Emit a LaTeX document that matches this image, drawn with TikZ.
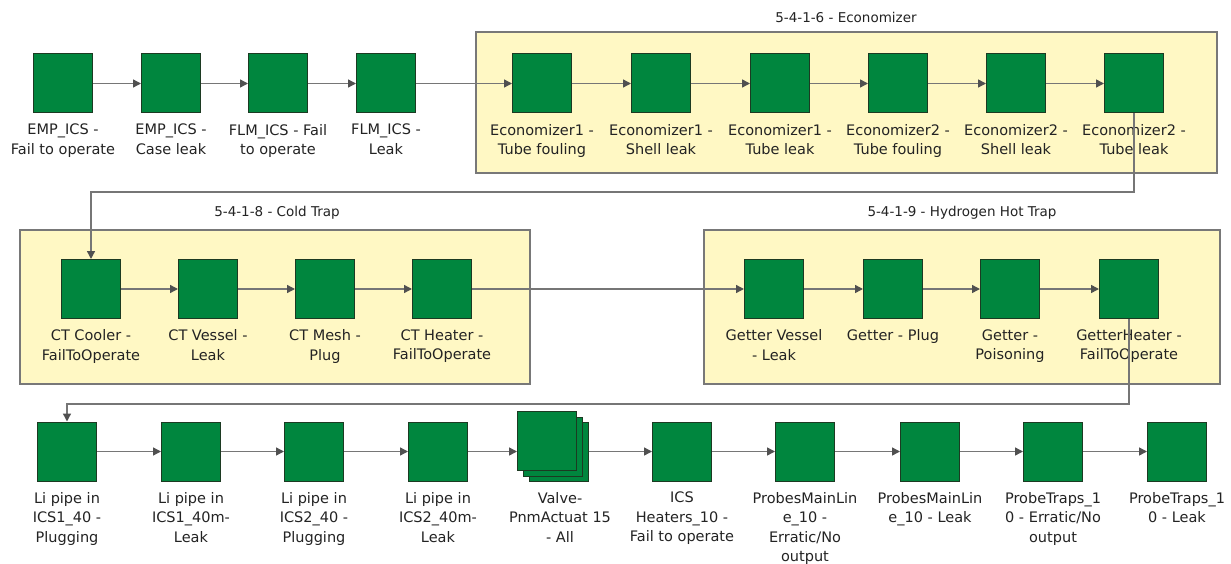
\documentclass[tikz,border=0pt]{standalone}
\usepackage{fontspec}
\setmainfont{DejaVu Sans}
\usetikzlibrary{arrows.meta,calc}
\definecolor{boxgreen}{RGB}{0,134,62}
\definecolor{boxedge}{RGB}{28,58,34}
\definecolor{grpfill}{RGB}{255,248,196}
\definecolor{grpedge}{RGB}{120,120,120}
\definecolor{linkgray}{RGB}{118,118,118}
\definecolor{tipgray}{RGB}{80,80,80}
\definecolor{txt}{RGB}{35,35,35}
\begin{document}
\begin{tikzpicture}[x=1pt,y=-1pt,
  fm/.style={draw=boxedge, fill=boxgreen, minimum size=59pt, inner sep=0pt, line width=1pt},
  lbl/.style={anchor=north, align=center, inner sep=0pt, text=txt,
              font=\fontsize{14.5}{19.5}\selectfont},
  grp/.style={draw=grpedge, fill=grpfill, line width=1.2pt, inner sep=0pt},
  ttl/.style={text=txt, inner sep=0pt, font=\fontsize{13.5}{16}\selectfont},
  link/.style={draw=linkgray, line width=1.4pt,
               -{Triangle[length=8pt,width=8pt,color=tipgray]}},
]
\useasboundingbox[fill=white] (0,0) rectangle (1231,564);

% group frames and their titles
\node[grp, minimum width=741pt, minimum height=141pt] (econ) at (846.5,102.5) {};
\node[grp, minimum width=510pt, minimum height=154pt] (cold) at (275,307) {};
\node[grp, minimum width=516pt, minimum height=154pt] (hot)  at (962,307) {};
\node[ttl] (econT) at (846,17)  {5-4-1-6 - Economizer};
\node[ttl] (coldT) at (277,213) {5-4-1-8 - Cold Trap};
\node[ttl] (hotT)  at (962,213) {5-4-1-9 - Hydrogen Hot Trap};

% row 1
\foreach \n/\x/\t in {
  a1/63/{EMP\_ICS -\\Fail to operate},
  a2/171/{EMP\_ICS -\\Case leak},
  a3/278/{FLM\_ICS - Fail\\to operate},
  a4/386/{FLM\_ICS -\\Leak},
  e1/542/{Economizer1 -\\Tube fouling},
  e2/661/{Economizer1 -\\Shell leak},
  e3/780/{Economizer1 -\\Tube leak},
  e4/898/{Economizer2 -\\Tube fouling},
  e5/1016/{Economizer2 -\\Shell leak},
  e6/1134/{Economizer2 -\\Tube leak}}{
  \node[fm] (\n) at (\x,83.5) {};
  \node[lbl] (\n t) at ([yshift=-10.5pt]\n.south) {\t};
}

% row 2
\foreach \n/\x/\t in {
  c1/91/{CT Cooler -\\FailToOperate},
  c2/208/{CT Vessel -\\Leak},
  c3/325/{CT Mesh -\\Plug},
  c4/442/{CT Heater -\\FailToOperate},
  g1/774/{Getter Vessel\\- Leak},
  g2/893/{Getter - Plug},
  g3/1010/{Getter -\\Poisoning},
  g4/1129/{GetterHeater -\\FailToOperate}}{
  \node[fm] (\n) at (\x,289) {};
  \node[lbl] (\n t) at ([yshift=-10.5pt]\n.south) {\t};
}

% row 3
\foreach \n/\x/\t in {
  l1/67/{Li pipe in\\ICS1\_40 -\\Plugging},
  l2/191/{Li pipe in\\ICS1\_40m-\\Leak},
  l3/314/{Li pipe in\\ICS2\_40 -\\Plugging},
  l4/438/{Li pipe in\\ICS2\_40m-\\Leak},
  h/682/{ICS\\Heaters\_10 -\\Fail to operate},
  p1/805/{ProbesMainLin\\e\_10 -\\Erratic/No\\output},
  p2/930/{ProbesMainLin\\e\_10 - Leak},
  p3/1053/{ProbeTraps\_1\\0 - Erratic/No\\output},
  p4/1177/{ProbeTraps\_1\\0 - Leak}}{
  \node[fm] (\n) at (\x,451.5) {};
  \node[lbl] (\n t) at ([yshift=-10.5pt]\n.south) {\t};
}

% the valve group: a stack of three squares, the top-left one in front
\node[fm] (v)  at (558.5,452) {};
\node[fm] (vm) at (553,446.5) {};
\node[fm] (vf) at (547,441) {};
\node[lbl] (vt) at (560,492) {Valve-\\PnmActuat 15\\- All};

% straight links
\foreach \a/\b in {a1/a2,a2/a3,a3/a4,a4/e1,e1/e2,e2/e3,e3/e4,e4/e5,e5/e6,
                   c1/c2,c2/c3,c3/c4,c4/g1,g1/g2,g2/g3,g3/g4,
                   l1/l2,l2/l3,l3/l4,h/p1,p1/p2,p2/p3,p3/p4}
  \draw[link] (\a.east) -- (\b.west);
\draw[link] (l4.east) -- (l4.east -| vf.west);
\draw[link] (h.west -| v.east) -- (h.west);

% row-to-row links
\coordinate (bendA) at (91,192);
\coordinate (bendB) at (67,404);
\draw[link] (e6.south) |- (bendA) -- (c1.north);
\draw[link] (g4.south) |- (bendB) -- (l1.north);
\end{tikzpicture}
\end{document}
